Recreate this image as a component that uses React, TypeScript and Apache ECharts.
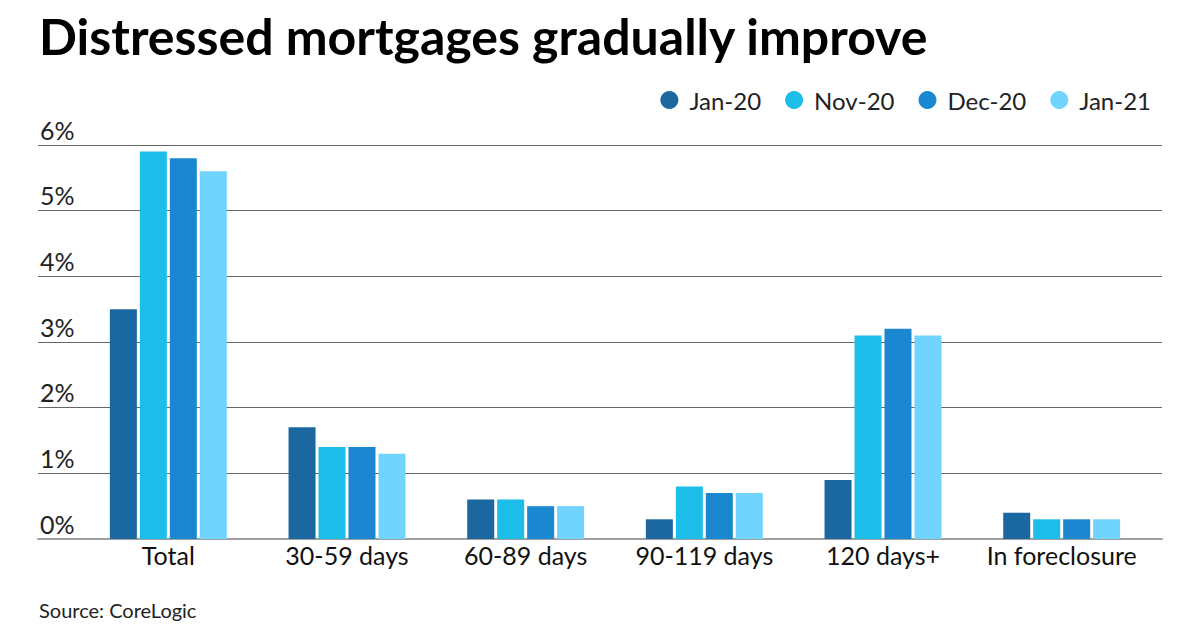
import React, { useEffect, useRef } from "react";
import * as echarts from "echarts";

const categories = ["Total", "30-59 days", "60-89 days", "90-119 days", "120 days+", "In foreclosure"];
const seriesNames = ["Jan-20", "Nov-20", "Dec-20", "Jan-21"];
const jan20 = [3.5, 1.7, 0.6, 0.3, 0.9, 0.4];
const nov20 = [5.9, 1.4, 0.6, 0.8, 3.1, 0.3];
const dec20 = [5.8, 1.4, 0.5, 0.7, 3.2, 0.3];
const jan21 = [5.6, 1.3, 0.5, 0.7, 3.1, 0.3];
const colors = ["#1b67a0", "#1dbdea", "#1b87d0", "#70d4fe"];
const yTicks = [0, 1, 2, 3, 4, 5, 6];

const FONT = "Lato, 'Noto Sans', sans-serif";

export default function App() {
  const ref = useRef<HTMLDivElement>(null);
  useEffect(() => {
    document.body.style.margin = "0";
    if (!ref.current) return;
    const chart = echarts.init(ref.current, undefined, { renderer: "svg" });
    const values = [jan20, nov20, dec20, jan21];
    chart.setOption({
      animation: false,
      backgroundColor: "#ffffff",
      textStyle: { fontFamily: FONT },
      title: [
        {
          text: "Distressed mortgages gradually improve",
          left: 34,
          top: 6,
          textStyle: { fontFamily: FONT, fontWeight: "bold", fontSize: 50, color: "#000" },
        },
        {
          text: "Source: CoreLogic",
          left: 34,
          top: 595,
          textStyle: { fontFamily: FONT, fontWeight: "normal", fontSize: 20, color: "#222" },
        },
      ],
      legend: {
        data: seriesNames,
        right: 44,
        top: 83,
        icon: "circle",
        itemWidth: 18,
        itemHeight: 18,
        itemGap: 24,
        textStyle: { fontFamily: FONT, fontSize: 24, color: "#222", padding: [0, 0, 0, 6] },
      },
      grid: [
        { left: 38, right: 38, top: 145, bottom: 91 },
        { left: 79, right: 49, top: 145, bottom: 91 },
      ],
      xAxis: [
        {
          type: "value",
          gridIndex: 0,
          min: 0,
          max: 1,
          axisLine: { show: true, lineStyle: { color: "#a0a0a0", width: 2 } },
          axisTick: { show: false },
          axisLabel: { show: false },
          splitLine: { show: false },
        },
        {
          type: "category",
          gridIndex: 1,
          data: categories,
          axisLine: { show: false },
          axisTick: { show: false },
          axisLabel: { interval: 0, hideOverlap: false, fontFamily: FONT, fontSize: 25, color: "#111", margin: 3 },
        },
      ],
      yAxis: [
        {
          type: "value",
          gridIndex: 0,
          min: 0,
          max: 6,
          interval: 1,
          axisLine: { show: false },
          axisTick: { show: false },
          axisLabel: {
            inside: true,
            margin: 2,
            verticalAlign: "bottom",
            padding: [0, 0, 3, 0],
            fontFamily: FONT,
            fontSize: 25,
            color: "#222",
            formatter: (v: number) => (yTicks.includes(v) ? v + "%" : ""),
          },
          splitLine: {
            show: true,
            lineStyle: { color: ["transparent", "#666", "#666", "#666", "#666", "#666", "#666"], width: 1 },
          },
        },
        {
          type: "value",
          gridIndex: 1,
          min: 0,
          max: 6,
          interval: 1,
          show: false,
          splitLine: { show: false },
        },
      ],
      series: seriesNames.map((name, i) => ({
        name,
        type: "bar",
        xAxisIndex: 1,
        yAxisIndex: 1,
        data: values[i],
        barWidth: 27,
        barGap: "11%",
        itemStyle: { color: colors[i] },
        emphasis: { disabled: true },
      })),
      color: colors,
    });
    return () => chart.dispose();
  }, []);
  return <div ref={ref} style={{ width: 1200, height: 630 }} />;
}
